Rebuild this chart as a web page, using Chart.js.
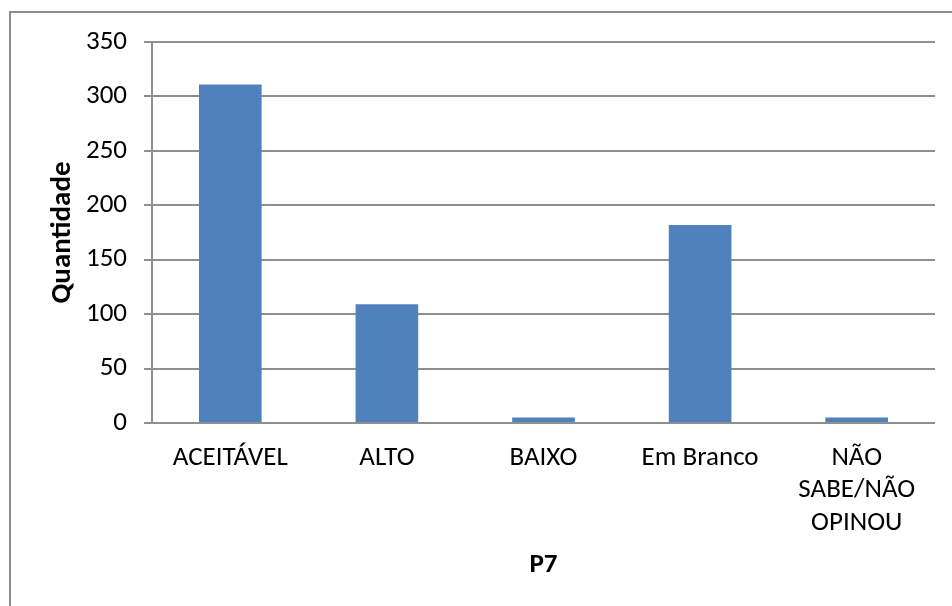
<!DOCTYPE html>
<html>
<head>
<meta charset="utf-8">
<script src="https://cdn.jsdelivr.net/npm/chart.js@4/dist/chart.umd.min.js"></script>
<style>
  html, body { margin: 0; padding: 0; background: #ffffff; }
  #wrap { width: 952px; height: 606px; position: relative; }
</style>
</head>
<body>
<div id="wrap"><canvas id="chart" width="952" height="606"></canvas></div>
<script>
// Respostas à pergunta P7
const categories = ['ACEITÁVEL', 'ALTO', 'BAIXO', 'Em Branco', ['NÃO', 'SABE/NÃO', 'OPINOU']];
const quantidade = [311, 109, 5, 182, 5];
const yTicks = [0, 50, 100, 150, 200, 250, 300, 350];

const FONT = 'Carlito, Calibri, Lato, sans-serif';
const GRID = '#8f8f8f';

// moldura cinza à volta do gráfico
const frame = {
  id: 'frame',
  beforeDraw(chart) {
    const ctx = chart.ctx;
    ctx.save();
    ctx.fillStyle = '#ffffff';
    ctx.fillRect(0, 0, chart.width, chart.height);
    ctx.strokeStyle = '#8c8c8c';
    ctx.lineWidth = 2;
    ctx.strokeRect(10, 12, chart.width + 20, chart.height + 20);
    ctx.restore();
  }
};

new Chart(document.getElementById('chart'), {
  type: 'bar',
  data: {
    labels: categories,
    datasets: [{
      label: 'Quantidade',
      data: quantidade,
      backgroundColor: '#4f81bd',
      borderWidth: 0,
      categoryPercentage: 1.0,
      barPercentage: 0.4
    }]
  },
  options: {
    responsive: false,
    animation: false,
    devicePixelRatio: 1,
    layout: { padding: { left: 0, top: 42, right: 17, bottom: 0 } },
    plugins: {
      legend: { display: false },
      tooltip: { enabled: false }
    },
    scales: {
      x: {
        grid: { display: false, drawTicks: false },
        border: { display: false },
        ticks: {
          color: '#000000',
          font: { family: FONT, size: 27, lineHeight: 1.2 },
          padding: 19,
          maxRotation: 0,
          autoSkip: false
        },
        title: {
          display: true,
          text: 'P7',
          color: '#000000',
          font: { family: FONT, size: 27, weight: 'bold', lineHeight: 1.2 },
          padding: { top: 0, bottom: 25 }
        },
        afterFit(scale) { scale.height = 183; }
      },
      y: {
        min: 0,
        max: 350,
        afterBuildTicks(scale) { scale.ticks = yTicks.map(v => ({ value: v })); },
        grid: { color: GRID, lineWidth: 2, tickLength: 8, drawTicks: true },
        border: { display: true, color: GRID, width: 2 },
        ticks: {
          color: '#000000',
          font: { family: FONT, size: 27 },
          padding: 17
        },
        title: {
          display: true,
          text: 'Quantidade',
          color: '#000000',
          font: { family: FONT, size: 29, weight: 'bold', lineHeight: 1.2 },
          padding: { top: 45, bottom: 0 }
        },
        afterFit(scale) { scale.width = 152; }
      }
    }
  },
  plugins: [frame]
});
</script>
</body>
</html>
